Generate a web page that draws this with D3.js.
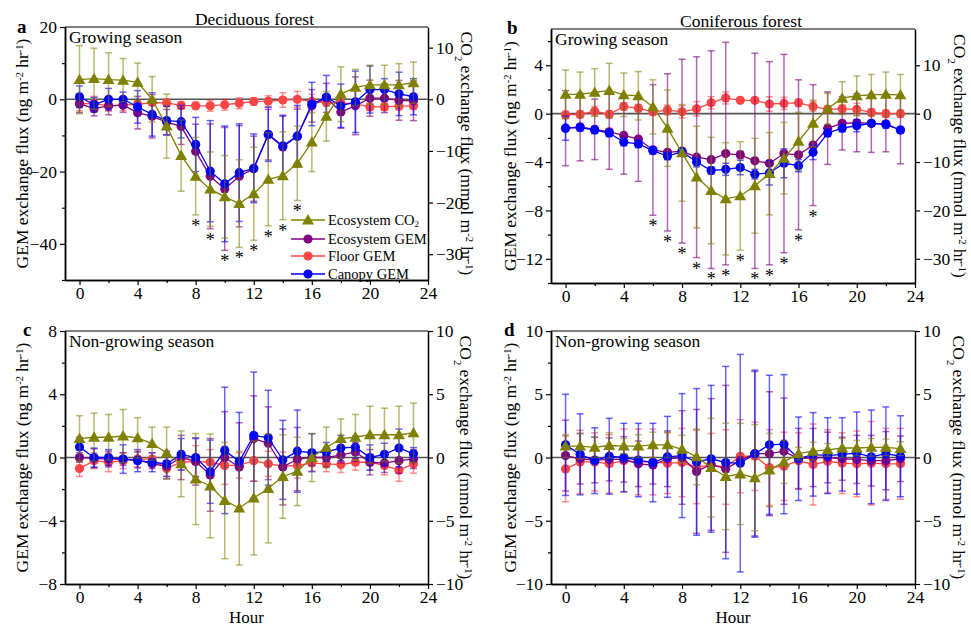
<!DOCTYPE html>
<html>
<head>
<meta charset="utf-8">
<script src="https://cdn.jsdelivr.net/npm/d3@7"></script>
<style>
  body { margin: 0; background: #fff; }
  svg text { font-family: "Liberation Serif", "Times New Roman", serif !important; fill: #000; }
</style>
</head>
<body>
<svg id="chart" width="971" height="626"></svg>
<script>
// hours of the day
const hours = [0,1,2,3,4,5,6,7,8,9,10,11,12,13,14,15,16,17,18,19,20,21,22,23];

// ---- a: deciduous forest, growing season ----
const aCO2      = [3.8,4.0,3.8,3.7,3.3,0,-5.2,-10.9,-14.9,-17.4,-18.9,-20.2,-18.3,-15.5,-14.8,-12.4,-8.3,-3.3,1.0,2.3,2.8,2.8,2.8,3.2];
const aCO2Err   = [6.6,5.9,5.2,4.2,3.7,4.4,6.2,6.9,7.5,7.2,8.0,8.5,9.0,9.0,8.5,7.2,5.7,4.8,5.3,3.5,3.8,3.8,4.1,4.0];
const aEco      = [-1.2,-2.6,-1.8,-1.6,-3.7,-4.7,-6.3,-7.5,-14.4,-21.3,-24.8,-21.3,-19.2,-9.8,-13.2,-10.2,-1.8,0.4,-3.5,-1.8,0.3,0.3,-0.3,-0.4];
const aEcoErr   = [2.5,2.0,2.5,2.0,4.5,6.0,3.5,5.0,7.5,14.5,17.0,14.0,9.0,7.0,8.5,7.5,4.5,4.0,4.5,8.0,5.0,4.0,5.5,5.5];
const aFloor    = [-1.2,-1.2,-1.8,-1.6,-1.4,-0.9,-1.0,-1.7,-1.8,-1.8,-1.5,-1.1,-0.6,-0.5,-0.2,0,-0.6,-0.9,-1.0,-1.3,-2.1,-2.1,-1.9,-1.8];
const aFloorErr = [2.0,2.0,1.5,1.5,1.0,0.8,1.0,1.0,1.0,1.5,1.5,1.5,1.0,1.5,2.0,2.2,2.0,1.0,1.0,1.0,1.0,1.0,1.0,1.0];
const aCan      = [0.7,-1.5,0,0,-2.1,-4.2,-5.9,-6.2,-12.5,-19.9,-23.4,-20.3,-19.1,-9.7,-12.9,-10.2,-1.3,0.6,-1.8,-0.7,2.7,2.7,1.5,0.7];
const aCanErr   = [3.0,2.0,3.0,2.0,4.5,6.0,4.0,4.5,7.5,14.0,16.0,13.5,9.5,7.5,8.5,8.5,6.0,6.0,6.0,8.5,6.5,3.0,6.0,5.0];
const aStars    = [8,9,10,11,12,13,14,15];

// ---- b: coniferous forest, growing season ----
const bCO2      = [4.0,4.0,4.4,4.8,3.9,3.7,1.4,-3.0,-8.1,-13.1,-15.9,-17.6,-17.0,-14.9,-12.4,-9.2,-5.7,-2.0,1.0,3.2,3.7,3.9,4.0,3.9];
const bCO2Err   = [5.0,4.6,4.9,5.6,4.5,5.0,5.6,7.9,10.0,10.5,11.0,11.6,11.2,9.8,8.5,7.4,6.0,4.8,3.2,3.4,4.1,4.2,4.6,4.2];
const bEco      = [-1.2,-1.1,-1.3,-1.5,-1.8,-2.1,-3.0,-3.2,-3.1,-3.6,-3.8,-3.3,-3.4,-3.9,-4.1,-3.3,-3.4,-2.6,-1.2,-0.8,-0.75,-0.8,-0.85,-1.35];
const bEcoErr   = [3.1,2.8,2.5,3.1,3.2,3.5,5.4,6.5,7.6,8.3,9.0,9.2,0.3,8.9,8.4,8.2,6.2,5.0,3.0,2.2,2.4,2.4,2.3,2.8];
const bFloor    = [-0.1,-0.05,0.2,-0.05,0.6,0.45,0.15,0.3,0.15,0.4,0.9,1.3,1.1,1.1,0.8,0.85,0.9,0.6,0.35,0.4,0.35,0.1,0,0];
const bFloorErr = [0.3,0.3,0.4,0.3,0.3,0.3,0.3,0.4,0.5,0.6,0.5,0.5,0.2,0.2,0.6,0.5,0.3,0.4,0.3,0.3,0.5,0.3,0.3,0.3];
const bCan      = [-1.2,-1.15,-1.35,-1.6,-2.35,-2.5,-3.05,-3.5,-3.15,-4.0,-4.7,-4.6,-4.45,-5.0,-4.9,-4.1,-4.3,-3.2,-1.6,-1.2,-1.0,-0.8,-0.9,-1.35];
const bCanErr   = [1.0,0.3,0.3,0.3,0.3,0.3,0.3,0.3,0.3,0.4,0.3,0.5,0.6,0.4,1.0,1.2,0.5,0.6,0.3,0.3,0.5,0.2,0.3,0.2];
const bStars    = [6,7,8,9,10,11,12,13,14,15,16,17];

// ---- c: deciduous forest, non-growing season ----
const cCO2      = [1.5,1.6,1.6,1.7,1.55,1.1,0.35,-0.5,-1.7,-2.25,-3.4,-4.0,-3.2,-2.45,-1.5,-1.1,0,0.8,1.5,1.6,1.8,1.8,1.8,1.95];
const cCO2Err   = [1.8,1.9,1.8,2.1,1.6,1.3,2.05,2.6,3.6,4.1,4.6,4.5,4.5,4.3,3.3,2.7,1.9,1.6,1.55,1.8,2.25,2.1,2.25,2.35];
const cEco      = [0,-0.05,-0.1,-0.1,-0.15,-0.4,-0.55,0,-0.25,-1.1,0,-0.6,1.2,0.9,-0.6,-0.1,0,0,0.15,0.35,-0.3,-0.35,-0.2,-0.1];
const cEcoErr   = [0.3,0.6,0.5,0.4,0.5,0.3,0.8,1.4,1.5,2.3,2.9,2.8,2.7,2.3,2.4,2.0,0.5,0.6,0.5,0.6,0.8,0.6,0.8,0.6];
const cFloor    = [-0.7,-0.2,-0.3,-0.2,-0.1,-0.1,-0.7,-0.3,-0.25,-0.3,-0.5,-0.5,-0.2,-0.4,-0.55,-0.5,-0.35,-0.4,-0.45,-0.3,-0.3,-0.5,-0.8,-0.4];
const cFloorErr = [0.5,0.5,0.6,0.5,0.5,0.4,0.5,0.5,1.0,0.8,1.2,0.8,1.3,0.8,0.9,0.8,0.5,0.5,0.5,0.5,0.5,0.6,0.7,0.6];
const cCan      = [0.67,0,0,-0.1,-0.2,-0.3,-0.4,0.2,0,-0.9,0.45,-0.25,1.4,1.25,-0.15,0.4,0.3,0.35,0.6,0.65,0,0.2,0.6,0.23];
const cCanErr   = [0.6,0.6,0.5,0.9,0.7,0.6,0.8,1.0,1.2,2.0,4.0,3.1,4.0,3.0,2.5,2.6,1.2,0.6,0.8,0.7,0.8,0.7,1.2,0.4];

// ---- d: coniferous forest, non-growing season ----
const dCO2      = [0.9,0.9,0.8,0.95,0.9,0.9,1.0,1.0,0.65,0.05,-0.8,-1.5,-1.3,-1.6,-1.0,-0.35,0.3,0.5,0.6,0.75,0.75,0.8,0.8,0.7];
const dCO2Err   = [0.9,1.0,0.8,1.0,0.6,0.9,1.0,1.0,1.1,2.2,3.9,4.2,4.0,4.2,2.9,1.7,0.5,0.7,0.5,0.75,0.6,0.7,0.65,0.55];
const dEco      = [0.15,-0.1,-0.2,-0.15,-0.15,-0.5,-0.6,-0.1,0,-1.1,-0.55,-0.9,-0.25,0.3,0.3,0.5,-0.1,0,0,-0.1,-0.15,-0.25,-0.25,-0.1];
const dEcoErr   = [2.8,2.0,1.8,1.7,1.8,1.8,1.5,2.2,3.7,4.9,5.2,6.6,0.3,6.5,4.9,4.2,2.4,2.3,2.0,1.7,1.9,2.0,2.3,1.8];
const dFloor    = [-0.9,-0.35,-0.35,-0.5,-0.25,-0.35,-0.35,-0.45,-0.4,-0.75,-0.6,-0.75,0.1,0.1,-0.8,-0.7,-0.25,-0.55,-0.3,-0.45,-0.5,-0.45,-0.5,-0.5];
const dFloorErr = [2.6,2.5,2.3,2.3,2.5,2.6,2.6,2.4,2.7,2.9,2.5,2.95,2.9,2.7,3.0,2.7,2.2,3.2,2.5,2.4,2.6,3.3,2.8,2.8];
const dCan      = [1.0,0.25,-0.25,0.1,0,-0.2,-0.4,0.05,0.15,-0.35,-0.1,-0.4,-0.45,0.3,1.0,1.05,-0.1,0.25,0.15,0.25,0.35,0.05,0.3,0.1];
const dCanErr   = [4.0,3.2,2.6,3.0,2.7,2.9,3.1,3.2,4.9,5.8,5.8,7.6,8.6,6.6,5.5,5.5,3.3,3.3,3.0,2.9,3.25,3.7,3.7,3.2];

const colors = {
  co2:   { line: "#808000", bar: "rgba(128,128,0,0.55)" },
  eco:   { line: "#800080", bar: "rgba(128,0,128,0.6)" },
  floor: { line: "#ff4444", bar: "rgba(255,40,40,0.5)" },
  can:   { line: "#0000ff", bar: "rgba(0,0,255,0.6)" }
};

const panels = [
  { id: "a", title: "Deciduous forest", season: "Growing season",
    x0: 65, x1: 428, y0: 27, y1: 280, letter: [17, 33], lOff: 37, rOff: 33,
    left: [-50, 20], leftTicks: [-40,-20,0,20], leftMinor: 10,
    right: [-35, 14], rightTicks: [-30,-20,-10,0,10],
    co2: aCO2, co2Err: aCO2Err, eco: aEco, ecoErr: aEcoErr, floor: aFloor, floorErr: aFloorErr,
    can: aCan, canErr: aCanErr, stars: aStars, legend: true, hourLabel: false },
  { id: "b", title: "Coniferous forest", season: "Growing season",
    x0: 551, x1: 915, y0: 29, y1: 283, letter: [507, 34], lOff: 35, rOff: 39,
    left: [-14, 7], leftTicks: [-12,-8,-4,0,4], leftMinor: 2,
    right: [-35, 17.5], rightTicks: [-30,-20,-10,0,10],
    co2: bCO2, co2Err: bCO2Err, eco: bEco, ecoErr: bEcoErr, floor: bFloor, floorErr: bFloorErr,
    can: bCan, canErr: bCanErr, stars: bStars, legend: false, hourLabel: false },
  { id: "c", title: null, season: "Non-growing season",
    x0: 65, x1: 428, y0: 331, y1: 584, letter: [23, 336], lOff: 37, rOff: 32,
    left: [-8, 8], leftTicks: [-8,-4,0,4,8], leftMinor: 2,
    right: [-10, 10], rightTicks: [-10,-5,0,5,10],
    co2: cCO2, co2Err: cCO2Err, eco: cEco, ecoErr: cEcoErr, floor: cFloor, floorErr: cFloorErr,
    can: cCan, canErr: cCanErr, stars: [], legend: false, hourLabel: true },
  { id: "d", title: null, season: "Non-growing season",
    x0: 551, x1: 915, y0: 331, y1: 584, letter: [504, 336], lOff: 35, rOff: 38,
    left: [-10, 10], leftTicks: [-10,-5,0,5,10], leftMinor: 2.5,
    right: [-10, 10], rightTicks: [-10,-5,0,5,10],
    co2: dCO2, co2Err: dCO2Err, eco: dEco, ecoErr: dEcoErr, floor: dFloor, floorErr: dFloorErr,
    can: dCan, canErr: dCanErr, stars: [], legend: false, hourLabel: true }
];

const svg = d3.select("#chart");
const FS = 17.5;
const tri = d3.symbol().type(d3.symbolTriangle).size(62);

function minorTicks(domain, step) {
  const out = [];
  for (let v = Math.ceil(domain[0] / step) * step; v <= domain[1] + 1e-9; v += step) out.push(+v.toFixed(3));
  return out;
}

function drawSeries(g, x, y, vals, errs, c, marker) {
  const bars = g.append("g");
  vals.forEach((v, i) => {
    const px = x(hours[i]);
    const top = y(v + errs[i]), bot = y(v - errs[i]);
    bars.append("line").attr("x1", px).attr("x2", px).attr("y1", top).attr("y2", bot)
      .attr("stroke", c.bar).attr("stroke-width", 1.5);
    [top, bot].forEach(yy => bars.append("line")
      .attr("x1", px - 3.5).attr("x2", px + 3.5).attr("y1", yy).attr("y2", yy)
      .attr("stroke", c.bar).attr("stroke-width", 1.5));
  });
  const line = d3.line().x((d, i) => x(hours[i])).y(d => y(d));
  g.append("path").datum(vals).attr("d", line)
    .attr("fill", "none").attr("stroke", c.line).attr("stroke-width", 1.3);
  if (marker === "tri") {
    g.selectAll(null).data(vals).enter().append("path")
      .attr("d", tri)
      .attr("transform", (d, i) => "translate(" + x(hours[i]) + "," + (y(d) + 1) + ")")
      .attr("fill", c.line);
  } else {
    g.selectAll(null).data(vals).enter().append("circle")
      .attr("cx", (d, i) => x(hours[i])).attr("cy", d => y(d)).attr("r", 4.6)
      .attr("fill", c.line);
  }
}

function unitLabel(t, parts) {
  // parts: [text, 'sub' | 'sup' | null]
  parts.forEach(p => {
    const ts = t.append("tspan").text(p[0]);
    if (p[1] === "sup") ts.attr("baseline-shift", "super").attr("font-size", FS * 0.6);
    if (p[1] === "sub") ts.attr("baseline-shift", "sub").attr("font-size", FS * 0.6);
  });
}

panels.forEach(p => {
  const g = svg.append("g");
  const x = d3.scaleLinear().domain([-1, 24]).range([p.x0, p.x1]);
  const yL = d3.scaleLinear().domain(p.left).range([p.y1, p.y0]);
  const yR = d3.scaleLinear().domain(p.right).range([p.y1, p.y0]);

  // zero line
  g.append("line").attr("x1", p.x0).attr("x2", p.x1).attr("y1", yL(0)).attr("y2", yL(0))
    .attr("stroke", "#555").attr("stroke-width", 1.6);

  // series
  drawSeries(g, x, yL, p.floor, p.floorErr, colors.floor, "circle");
  drawSeries(g, x, yL, p.eco, p.ecoErr, colors.eco, "circle");
  drawSeries(g, x, yL, p.can, p.canErr, colors.can, "circle");
  drawSeries(g, x, yR, p.co2, p.co2Err, colors.co2, "tri");

  // significance asterisks below the lowest error bar
  p.stars.forEach(h => {
    const i = hours.indexOf(h);
    const low = Math.max(
      yR(p.co2[i] - p.co2Err[i]), yL(p.eco[i] - p.ecoErr[i]),
      yL(p.floor[i] - p.floorErr[i]), yL(p.can[i] - p.canErr[i]));
    g.append("text").attr("x", x(h)).attr("y", low + 17).attr("text-anchor", "middle")
      .attr("font-size", 18).text("*");
  });

  // axes
  g.append("g").attr("transform", "translate(0," + p.y1 + ")")
    .call(d3.axisBottom(x).tickValues([0,4,8,12,16,20,24]).tickSize(5).tickPadding(2).tickSizeOuter(0));
  g.append("g").attr("transform", "translate(0," + p.y1 + ")")
    .call(d3.axisBottom(x).tickValues([2,6,10,14,18,22]).tickSize(3).tickFormat("").tickSizeOuter(0));
  g.append("g").attr("transform", "translate(" + p.x0 + ",0)")
    .call(d3.axisLeft(yL).tickValues(p.leftTicks).tickSize(5).tickPadding(3).tickSizeOuter(0).tickFormat(d3.format("d")));
  g.append("g").attr("transform", "translate(" + p.x0 + ",0)")
    .call(d3.axisLeft(yL).tickValues(minorTicks(p.left, p.leftMinor).filter(v => !p.leftTicks.includes(v)))
      .tickSize(3).tickFormat("").tickSizeOuter(0));
  g.append("g").attr("transform", "translate(" + p.x1 + ",0)")
    .call(d3.axisRight(yR).tickValues(p.rightTicks).tickSize(5).tickPadding(3).tickSizeOuter(0).tickFormat(d3.format("d")));
  // top border
  g.append("line").attr("x1", p.x0).attr("x2", p.x1).attr("y1", p.y0).attr("y2", p.y0)
    .attr("stroke", "#000").attr("stroke-width", 1.2);

  g.selectAll(".domain").attr("stroke", "#000").attr("stroke-width", 1.5);
  g.selectAll(".tick line").attr("stroke", "#000").attr("stroke-width", 1.2);
  g.selectAll(".tick text").attr("font-size", FS).attr("fill", "#000");

  // labels
  g.append("text").attr("x", p.letter[0]).attr("y", p.letter[1]).attr("font-weight", "bold")
    .attr("font-size", 19).text(p.id);
  if (p.title) {
    g.append("text").attr("x", (p.x0 + p.x1) / 2 + 8).attr("y", p.y0 - 2).attr("text-anchor", "middle")
      .attr("font-size", FS).text(p.title);
  }
  g.append("text").attr("x", p.x0 + 4).attr("y", p.y0 + 16).attr("font-size", FS).text(p.season);
  if (p.hourLabel) {
    g.append("text").attr("x", (p.x0 + p.x1) / 2).attr("y", p.y1 + 38.5).attr("text-anchor", "middle")
      .attr("font-size", 17).text("Hour");
  }

  const cy = (p.y0 + p.y1) / 2;
  const tl = g.append("text").attr("transform", "translate(" + (p.x0 - p.lOff) + "," + cy + ") rotate(-90)")
    .attr("text-anchor", "middle").attr("font-size", FS);
  unitLabel(tl, [["GEM exchange flux (ng m", null], ["-2", "sup"], [" hr", null], ["-1", "sup"], [")", null]]);
  const tr = g.append("text").attr("transform", "translate(" + (p.x1 + p.rOff) + "," + cy + ") rotate(90)")
    .attr("text-anchor", "middle").attr("font-size", FS);
  unitLabel(tr, [["CO", null], ["2", "sub"], [" exchange flux (mmol m", null], ["-2", "sup"], [" hr", null], ["-1", "sup"], [")", null]]);

  // legend
  if (p.legend) {
    const lg = g.append("g");
    const rows = [
      { name: "Ecosystem CO", sub: "2", c: colors.co2, m: "tri", y: 220 },
      { name: "Ecosystem GEM", c: colors.eco, m: "circle", y: 239 },
      { name: "Floor GEM", c: colors.floor, m: "circle", y: 256 },
      { name: "Canopy GEM", c: colors.can, m: "circle", y: 274 }
    ];
    rows.forEach(r => {
      lg.append("line").attr("x1", 291).attr("x2", 325).attr("y1", r.y).attr("y2", r.y)
        .attr("stroke", r.c.line).attr("stroke-width", 1.3);
      if (r.m === "tri") {
        lg.append("path").attr("d", tri).attr("transform", "translate(308," + (r.y + 1) + ")").attr("fill", r.c.line);
      } else {
        lg.append("circle").attr("cx", 308).attr("cy", r.y).attr("r", 4.6).attr("fill", r.c.line);
      }
      const t = lg.append("text").attr("x", 328).attr("y", r.y + 5).attr("font-size", 14.5);
      t.append("tspan").text(r.name);
      if (r.sub) t.append("tspan").attr("dy", 2).attr("font-size", 9).text(r.sub);
    });
  }
});
</script>
</body>
</html>
